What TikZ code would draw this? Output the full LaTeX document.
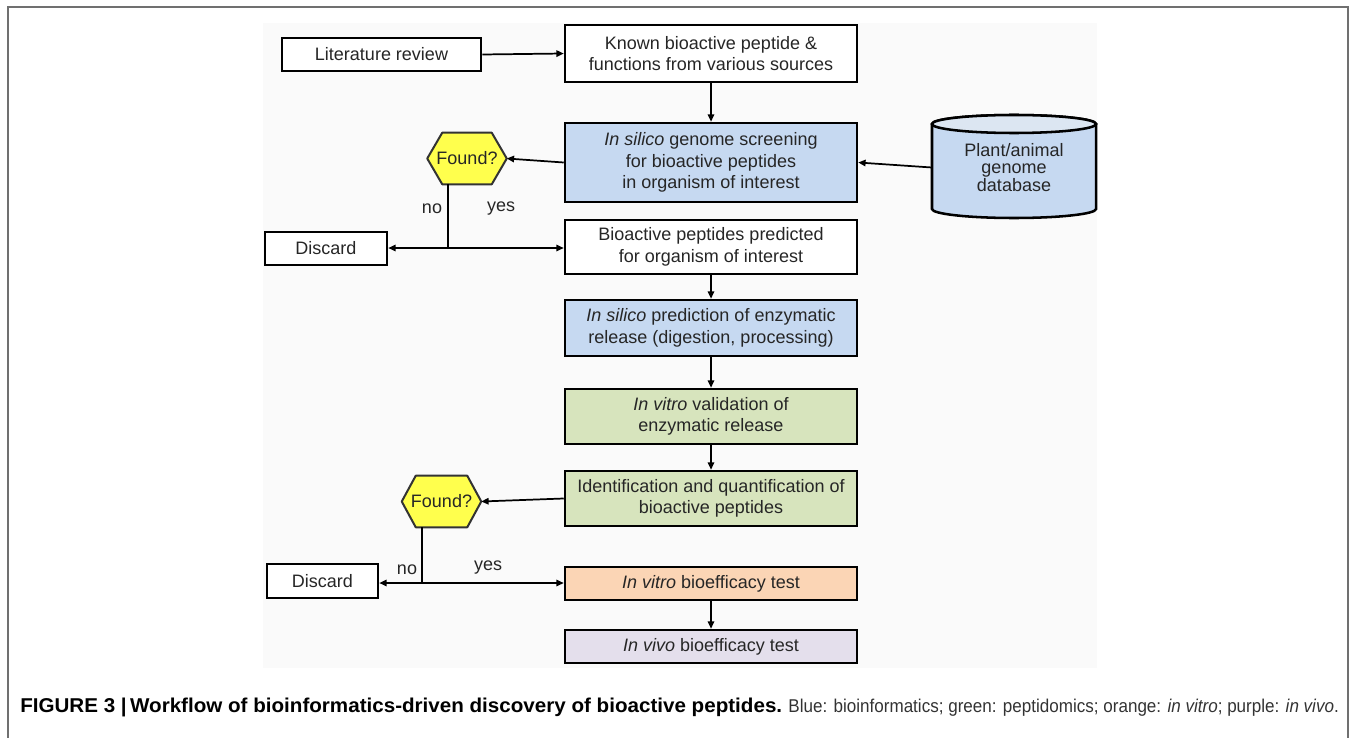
\documentclass[tikz,border=0pt]{standalone}
\usepackage{fontspec}
\setmainfont{Liberation Sans}
\newfontfamily\capbf[FakeStretch=1.03]{Liberation Sans}
\newfontfamily\capreg[FakeStretch=0.92]{Liberation Sans}
\usetikzlibrary{arrows.meta,calc,backgrounds}
\definecolor{bluebox}{HTML}{C6D9F1}
\definecolor{greenbox}{HTML}{D7E4BD}
\definecolor{orangebox}{HTML}{FBD5B5}
\definecolor{purplebox}{HTML}{E4DFEC}
\definecolor{hexyellow}{HTML}{FFFF4D}
\definecolor{dbtop}{HTML}{DCE6F2}
\definecolor{txt}{HTML}{262626}
\definecolor{panel}{HTML}{FAFAFA}
\definecolor{frame}{HTML}{707070}
\definecolor{captxt}{HTML}{333333}
\begin{document}
\begin{tikzpicture}[x=0.75pt,y=-0.75pt,
  boxfont/.style={font=\fontsize{13.5pt}{16.2pt}\selectfont, text=txt},
  stepbox/.style={boxfont, draw=black, line width=1.9pt, align=center, inner sep=0pt,
    minimum width=219pt, fill=white},
  sidebox/.style={boxfont, draw=black, line width=1.9pt, align=center, inner sep=0pt, fill=white},
  hexnode/.style={boxfont, inner sep=0pt, minimum width=59.25pt, minimum height=38.25pt},
  hexshape/.style={fill=hexyellow, draw=black!80, line width=1.5pt, line join=round},
  conn/.style={line width=1.3pt, -{Triangle[length=5.5pt,width=4.8pt]}},
  line/.style={line width=1.3pt},
  lbl/.style={boxfont, inner sep=0pt}
]
\useasboundingbox (0,0) rectangle (1355,738);
% outer frame
\draw[frame, line width=0.8pt] (8,738) -- (8,7) -- (1348,7) -- (1348,738);

% main column
\node[stepbox, minimum height=42.75pt] (known) at (711,53.5) {Known bioactive peptide \&\\functions from various sources};
\node[stepbox, minimum height=59.25pt, fill=bluebox] (screen) at (711,162.5) {\textit{In silico} genome screening\\for bioactive peptides\\in organism of interest};
\node[stepbox, minimum height=40.5pt] (pred) at (711,247) {Bioactive peptides predicted\\for organism of interest};
\node[stepbox, minimum height=42pt, fill=bluebox] (release) at (711,328) {\textit{In silico} prediction of enzymatic\\release (digestion, processing)};
\node[stepbox, minimum height=41.25pt, fill=greenbox] (valid) at (711,416.5) {\textit{In vitro} validation of\\enzymatic release};
\node[stepbox, minimum height=41.25pt, fill=greenbox] (ident) at (711,498.5) {Identification and quantification of\\bioactive peptides};
\node[stepbox, minimum height=24.75pt, fill=orangebox] (vitro) at (711,583.5) {\textit{In vitro} bioefficacy test};
\node[stepbox, minimum height=24.75pt, fill=purplebox] (vivo) at (711,646.5) {\textit{In vivo} bioefficacy test};

% side boxes
\node[sidebox, minimum width=149.25pt, minimum height=24.75pt] (lit) at (381.5,54.5) {Literature review};
\node[sidebox, minimum width=91.5pt, minimum height=24.75pt] (disc1) at (326,248.5) {Discard};
\node[sidebox, minimum width=83.25pt, minimum height=25.5pt] (disc2) at (322.5,581) {Discard};

% decision hexagons (text nodes)
\node[hexnode] (f1) at (467,158.5) {};
\node[hexnode] (f2) at (441.5,501.5) {};

% database
\node[boxfont, align=center, inner sep=0pt, minimum width=123pt, minimum height=60pt,
  font=\fontsize{13.5pt}{13.3pt}\selectfont] (db) at (1014,167.5) {Plant/animal\\genome\\database};

\begin{scope}[on background layer]
  \fill[panel] (263,23) rectangle (1097,668);
  \draw[hexshape] (f1.west) -- ($(f1.north west)+(15,0)$) -- ($(f1.north east)+(-15,0)$) -- (f1.east)
    -- ($(f1.south east)+(-15,0)$) -- ($(f1.south west)+(15,0)$) -- cycle;
  \draw[hexshape] (f2.west) -- ($(f2.north west)+(14,0)$) -- ($(f2.north east)+(-14,0)$) -- (f2.east)
    -- ($(f2.south east)+(-14,0)$) -- ($(f2.south west)+(14,0)$) -- cycle;
  \filldraw[fill=bluebox, draw=black, line width=1.9pt]
    (932,124) -- (932,209) arc[start angle=180, end angle=360, x radius=61.5pt, y radius=6.75pt]
    -- (1096,124) arc[start angle=0, end angle=180, x radius=61.5pt, y radius=6.75pt] -- cycle;
  \filldraw[fill=dbtop, draw=black, line width=1.9pt] (1014,124) ellipse[x radius=61.5pt, y radius=6.75pt];
\end{scope}
\node[boxfont] at (f1) {Found?};
\node[boxfont] at (f2) {Found?};

% junction coordinates
\coordinate (j1) at (448,248);
\coordinate (j2) at (422,583);

% connectors
\draw[conn] (lit.east) -- (known.west);
\draw[conn] (known.south) -- (screen.north);
\draw[conn] (db.west) -- (screen.east);
\draw[conn] (screen.west) -- (f1.east);
\draw[line] (j1 |- f1.south) -- (j1);
\draw[conn] (j1) -- (disc1.east |- j1);
\draw[conn] (j1) -- (pred.west |- j1);
\draw[conn] (pred.south) -- (release.north);
\draw[conn] (release.south) -- (valid.north);
\draw[conn] (valid.south) -- (ident.north);
\draw[conn] (ident.west) -- (f2.east);
\draw[line] (j2 |- f2.south) -- (j2);
\draw[conn] (j2) -- (disc2.east |- j2);
\draw[conn] (j2) -- (vitro.west |- j2);
\draw[conn] (vitro.south) -- (vivo.north);

% labels
\node[lbl] (no1) at (432,209) {no};
\node[lbl] (yes1) at (501,209) {yes};
\node[lbl] (no2) at (407,570) {no};
\node[lbl] (yes2) at (488,568) {yes};

% caption
\node[anchor=west, inner sep=0pt, text=captxt, font=\capreg\fontsize{13.9pt}{16pt}\selectfont] (cap) at (20,707)
  {{\capbf\bfseries\fontsize{15pt}{16pt}\selectfont\color{black}FIGURE 3 |\,Workflow of bioinformatics-driven discovery of bioactive peptides.} Blue: bioinformatics; green: peptidomics; orange: \textit{in vitro}; purple: \textit{in vivo}.};
\end{tikzpicture}
\end{document}
